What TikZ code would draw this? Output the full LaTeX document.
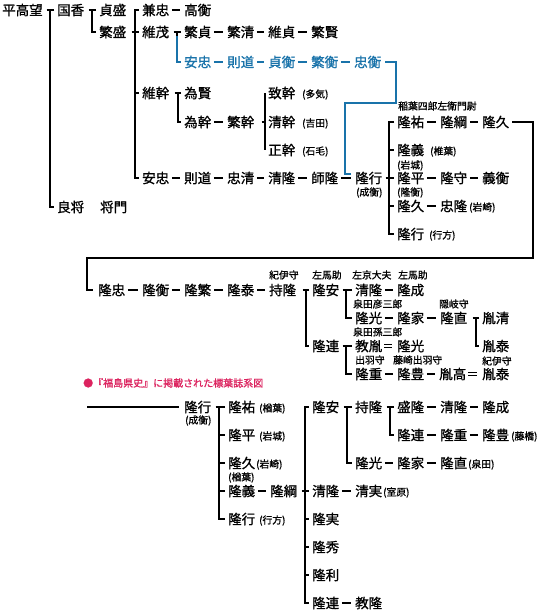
\documentclass[tikz,border=0pt]{standalone}
\usepackage{fontspec}
\setmainfont{Noto Sans CJK JP}[FakeBold=1]
\usetikzlibrary{calc}
\definecolor{kblue}{RGB}{25,115,170}
\definecolor{kred}{RGB}{220,35,95}
\tikzset{
 nm/.style={anchor=west, inner sep=0pt, font=\fontsize{13.5}{14}\selectfont, text height=11.9pt, text depth=1.6pt},
 sm/.style={anchor=west, inner sep=0pt, font=\fontsize{9.8}{10.5}\selectfont, text height=8.6pt, text depth=1.2pt},
 bn/.style={nm, text=kblue},
 ln/.style={line width=2.5pt, line join=miter},
 bln/.style={line width=2.1pt, draw=kblue, line join=miter},
 eqs/.style={line width=1pt},
}
\newcommand\lnk[3][ln]{\draw[#1] ([xshift=2.5pt]#2.east) -- ([xshift=-4.5pt]#3.west);}
\newcommand\eqlk[2]{\draw[eqs] ([xshift=2pt,yshift=1.7pt]#1.east) -- ([xshift=-5pt,yshift=1.7pt]#2.west);
 \draw[eqs] ([xshift=2pt,yshift=-1.7pt]#1.east) -- ([xshift=-5pt,yshift=-1.7pt]#2.west);}
\newcommand\ptick[2]{\draw[ln] ($(#1.east -| #2)+(-3.5,0)$) -- (#1.east -| #2);}
\newcommand\ctick[2]{\draw[ln] (#1.west -| #2) -- ([xshift=-3pt]#1.west);}
\newcommand\mybrk[3]{\draw[ln] ([xshift=-3pt]#2.west) -- (#2.west -| #1) -- (#3.west -| #1) -- ([xshift=-3pt]#3.west);}
\begin{document}
\begin{tikzpicture}[x=1pt,y=-1pt]
\useasboundingbox[fill=white] (0,0) rectangle (543,611);
% ---------- upper part ----------
\node[nm] (A1) at (2,10) {平高望};
\node[nm] (A2) at (57,10) {国香};
\node[nm] (A3) at (99,10) {貞盛};
\node[nm] (A4) at (99,32) {繁盛};
\node[nm] (A5) at (142,10) {兼忠};
\node[nm] (A6) at (184,10) {高衡};
\node[nm] (A7) at (142,32) {維茂};
\node[nm] (A8) at (184,32) {繁貞};
\node[nm] (A9) at (227,32) {繁清};
\node[nm] (A10) at (268,32) {維貞};
\node[nm] (A11) at (311,32) {繁賢};
\node[bn] (B1) at (184,62) {安忠};
\node[bn] (B2) at (227,62) {則道};
\node[bn] (B3) at (268,62) {貞衡};
\node[bn] (B4) at (311,62) {繁衡};
\node[bn] (B5) at (354,62) {忠衡};
\node[nm] (A12) at (142,93) {維幹};
\node[nm] (A13) at (184,93) {為賢};
\node[nm] (A14) at (184,122) {為幹};
\node[nm] (A15) at (227,122) {繁幹};
\node[nm] (A16) at (268,93) {致幹};
\node[sm] (s1) at (302,94) {(多気)};
\node[nm] (A17) at (268,122) {清幹};
\node[sm] (s2) at (302,123) {(吉田)};
\node[nm] (A18) at (268,150) {正幹};
\node[sm] (s3) at (302,151) {(石毛)};
\node[nm] (A19) at (142,178) {安忠};
\node[nm] (A20) at (184,178) {則道};
\node[nm] (A21) at (227,178) {忠清};
\node[nm] (A22) at (268,178) {清隆};
\node[nm] (A23) at (311,178) {師隆};
\node[nm] (A24) at (355,178) {隆行};
\node[sm] (s4) at (356,192) {(成衡)};
\node[sm] (s5) at (398,106) {稲葉四郎左衛門尉};
\node[nm] (A25) at (397,122) {隆祐};
\node[nm] (A26) at (440,122) {隆綱};
\node[nm] (A27) at (482,122) {隆久};
\node[nm] (A28) at (397,150) {隆義};
\node[sm] (s6) at (430,151) {(椎葉)};
\node[sm] (s7) at (397,165) {(岩城)};
\node[nm] (A29) at (397,178) {隆平};
\node[nm] (A30) at (440,178) {隆守};
\node[nm] (A31) at (482,178) {義衡};
\node[sm] (s8) at (397,192) {(隆衡)};
\node[nm] (A32) at (397,206) {隆久};
\node[nm] (A33) at (440,206) {忠隆};
\node[sm] (s9) at (469,207) {(岩崎)};
\node[nm] (A34) at (397,234) {隆行};
\node[sm] (s10) at (429,235) {(行方)};
\node[nm] (A35) at (57,207) {良将};
\node[nm] (A36) at (100,207) {将門};
% verticals
\coordinate (v1) at (50,0);
\coordinate (v2) at (92,0);
\coordinate (v3) at (135,0);
\coordinate (v4) at (177,0);
\coordinate (v5) at (178,0);
\coordinate (v6) at (265,0);
\coordinate (v7) at (389,0);
\mybrk{v1}{A2}{A35} \ptick{A1}{v1}
\mybrk{v2}{A3}{A4} \ptick{A2}{v2}
\mybrk{v3}{A5}{A19} \ctick{A7}{v3} \ctick{A12}{v3} \ptick{A4}{v3}
\ptick{A7}{v4}
\draw[ln] ([xshift=-3pt]A8.west) -- (A8.west -| v4) -- ++(0,4);
\draw[bln] ($(A8.west -| v4)+(0,4)$) -- (B1.west -| v4) -- ([xshift=-3pt]B1.west);
\mybrk{v5}{A13}{A14} \ptick{A12}{v5}
\mybrk{v6}{A16}{A18} \ctick{A17}{v6} \ptick{A15}{v6}
\mybrk{v7}{A25}{A34} \ctick{A28}{v7} \ctick{A29}{v7} \ctick{A32}{v7} \ptick{A24}{v7}
% dashes
\lnk{A5}{A6} \lnk{A8}{A9} \lnk{A9}{A10} \lnk{A10}{A11}
\lnk[bln]{B1}{B2} \lnk[bln]{B2}{B3} \lnk[bln]{B3}{B4} \lnk[bln]{B4}{B5}
\lnk{A14}{A15}
\lnk{A19}{A20} \lnk{A20}{A21} \lnk{A21}{A22} \lnk{A22}{A23} \lnk{A23}{A24}
\lnk{A25}{A26} \lnk{A26}{A27} \lnk{A29}{A30} \lnk{A30}{A31} \lnk{A32}{A33}
% blue connector
\coordinate (bq1) at (396,103);
\coordinate (bq2) at (345,103);
\coordinate (bq3) at (345,174);
\draw[bln] ([xshift=4pt]B5.east) -- (B5.east -| bq1) -- (bq1) -- (bq2) -- (bq3) -- ++(6,0);
% ---------- middle part ----------
\node[nm] (C1) at (98,290) {隆忠};
\node[nm] (C2) at (142,290) {隆衡};
\node[nm] (C3) at (184,290) {隆繁};
\node[nm] (C4) at (227,290) {隆泰};
\node[nm] (C5) at (269,290) {持隆};
\node[sm] (m1) at (269,275) {紀伊守};
\node[nm] (C6) at (312,290) {隆安};
\node[sm] (m2) at (312,275) {左馬助};
\node[nm] (C7) at (355,290) {清隆};
\node[sm] (m3) at (352,275) {左京大夫};
\node[nm] (C8) at (397,290) {隆成};
\node[sm] (m4) at (398,275) {左馬助};
\node[sm] (m5) at (353,304) {泉田彦三郎};
\node[sm] (m6) at (439,304) {隠岐守};
\node[nm] (C9) at (355,318) {隆光};
\node[nm] (C10) at (397,318) {隆家};
\node[nm] (C11) at (440,318) {隆直};
\node[nm] (C12) at (482,318) {胤清};
\node[sm] (m7) at (353,332) {泉田孫三郎};
\node[nm] (C14) at (312,346) {隆連};
\node[nm] (C15) at (355,346) {教胤};
\node[nm] (C16) at (397,346) {隆光};
\node[nm] (C13) at (482,346) {胤泰};
\node[sm] (m8) at (355,360) {出羽守};
\node[sm] (m9) at (393,360) {藤崎出羽守};
\node[sm] (m10) at (482,361) {紀伊守};
\node[nm] (C17) at (355,374) {隆重};
\node[nm] (C18) at (397,374) {隆豊};
\node[nm] (C19) at (439,374) {胤高};
\node[nm] (C20) at (482,374) {胤泰};
\coordinate (r1) at (533,258);
\coordinate (l1) at (87,258);
\draw[ln] ([xshift=3pt]A27.east) -- (A27.east -| r1) -- (r1) -- (l1) -- (C1.west -| l1) -- ([xshift=-5pt]C1.west);
\coordinate (w1) at (306,0);
\coordinate (w2) at (346,0);
\coordinate (w3) at (476,0);
\mybrk{w1}{C6}{C14} \ptick{C5}{w1}
\mybrk{w2}{C7}{C9} \ptick{C6}{w2}
\mybrk{w2}{C15}{C17} \ptick{C14}{w2}
\mybrk{w3}{C12}{C13} \ptick{C11}{w3}
\lnk{C1}{C2} \lnk{C2}{C3} \lnk{C3}{C4} \lnk{C4}{C5}
\lnk{C7}{C8} \lnk{C9}{C10} \lnk{C10}{C11}
\lnk{C17}{C18} \lnk{C18}{C19}
\eqlk{C15}{C16} \eqlk{C19}{C20}
% ---------- title ----------
\node[anchor=west, inner sep=0pt, font=\fontsize{10}{11}\selectfont, text=kred] (T) at (83,383) {●『福島県史』に掲載された標葉誌系図};
% ---------- lower part ----------
\coordinate (D0) at (87,407);
\node[nm] (D1) at (184,407) {隆行};
\node[sm] (t1) at (185,420) {(成衡)};
\node[nm] (D2) at (228,407) {隆祐};
\node[sm] (t2) at (259,408) {(楢葉)};
\node[nm] (D3) at (228,435) {隆平};
\node[sm] (t3) at (259,436) {(岩城)};
\node[nm] (D4) at (228,463) {隆久};
\node[sm] (t4) at (256,464) {(岩崎)};
\node[sm] (t5) at (228,477) {(楢葉)};
\node[nm] (D5) at (228,491) {隆義};
\node[nm] (D6) at (270,491) {隆綱};
\node[nm] (D7) at (228,519) {隆行};
\node[sm] (t6) at (259,520) {(行方)};
\node[nm] (E1) at (312,407) {隆安};
\node[nm] (E2) at (355,407) {持隆};
\node[nm] (E3) at (397,407) {盛隆};
\node[nm] (E4) at (440,407) {清隆};
\node[nm] (E5) at (482,407) {隆成};
\node[nm] (E6) at (397,435) {隆連};
\node[nm] (E7) at (440,435) {隆重};
\node[nm] (E8) at (482,435) {隆豊};
\node[sm] (t7) at (511,436) {(藤橋)};
\node[nm] (E9) at (355,463) {隆光};
\node[nm] (E10) at (397,463) {隆家};
\node[nm] (E11) at (440,463) {隆直};
\node[sm] (t8) at (468,464) {(泉田)};
\node[nm] (E12) at (312,491) {清隆};
\node[nm] (E13) at (355,491) {清実};
\node[sm] (t9) at (383,492) {(室原)};
\node[nm] (E14) at (312,519) {隆実};
\node[nm] (E15) at (312,547) {隆秀};
\node[nm] (E16) at (312,575) {隆利};
\node[nm] (E17) at (312,603) {隆連};
\node[nm] (E18) at (355,603) {教隆};
\draw[ln] (D0) -- ([xshift=-5pt]D1.west);
\coordinate (u1) at (219,0);
\coordinate (u2) at (305,0);
\coordinate (u3) at (347,0);
\coordinate (u4) at (390,0);
\mybrk{u1}{D2}{D7} \ctick{D3}{u1} \ctick{D4}{u1} \ctick{D5}{u1} \ptick{D1}{u1}
\mybrk{u2}{E1}{E17} \ctick{E12}{u2} \ctick{E14}{u2} \ctick{E15}{u2} \ctick{E16}{u2} \ptick{D6}{u2}
\mybrk{u3}{E2}{E9} \ptick{E1}{u3}
\mybrk{u4}{E3}{E6} \ptick{E2}{u4}
\lnk{D5}{D6} \lnk{E3}{E4} \lnk{E4}{E5} \lnk{E6}{E7} \lnk{E7}{E8}
\lnk{E9}{E10} \lnk{E10}{E11} \lnk{E12}{E13} \lnk{E17}{E18}
\end{tikzpicture}
\end{document}
